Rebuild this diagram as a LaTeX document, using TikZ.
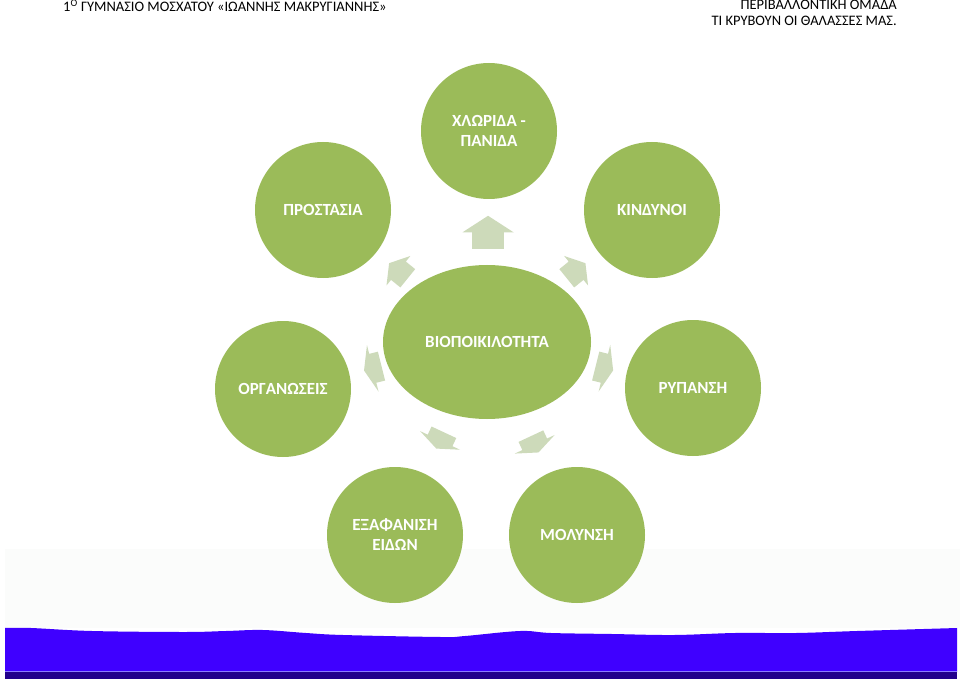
\documentclass[tikz,border=0pt]{standalone}
\usepackage{fontspec}
\setmainfont{Carlito}
\usepackage{tikz}
\usetikzlibrary{calc,shapes.geometric}
\definecolor{leafG}{HTML}{9BBB59}
\definecolor{paleG}{HTML}{CDDABA}
\definecolor{seaB}{HTML}{3F00FF}
\definecolor{deepB}{HTML}{22008C}
\definecolor{foamB}{HTML}{8C7CFF}
\definecolor{mistW}{HTML}{FBFCFB}

\begin{document}
\begin{tikzpicture}[x=1pt,y=1pt,
  bub/.style={circle,fill=leafG,minimum size=136pt,inner sep=0pt,text=white,
    align=center,font=\fontsize{17}{20}\selectfont\bfseries},
  bio/.style={ellipse,fill=leafG,minimum width=208pt,minimum height=154pt,
    inner sep=0pt,text=white,font=\fontsize{17}{20}\selectfont\bfseries},
  hdr/.style={font=\fontsize{14.5}{16}\selectfont,inner sep=0pt}]
  \useasboundingbox (0,0) rectangle (960,681);
  % sea strip
  \fill[mistW] (5,53) rectangle (960,132);
  \fill[seaB] plot[smooth,tension=0.6] coordinates {(5,53)(31,53)(92,50)(184,49)
      (226,50)(263,51)(306,48)(343,46)(441,44)(465,45)(520,50)(551,48)(612,47)
      (674,46)(735,48)(796,48)(857,50)(957,53)} -- (957,9) -- (5,9) -- cycle;
  \fill[deepB] (5,2) rectangle (957,9);
  \draw[foamB,line width=0.8pt] (5,9.5) -- (957,9.5);
  % header
  \node[hdr,anchor=base west] (school) at (63,669)
       {1\textsuperscript{O} ΓΥΜΝΑΣΙΟ ΜΟΣΧΑΤΟΥ «ΙΩΑΝΝΗΣ ΜΑΚΡΥΓΙΑΝΝΗΣ»};
  \node[hdr,anchor=base east] (team) at (897,671) {ΠΕΡΙΒΑΛΛΟΝΤΙΚΗ ΟΜΑΔΑ};
  \node[hdr,anchor=base east] (title) at (897,655) {ΤΙ ΚΡΥΒΟΥΝ ΟΙ ΘΑΛΑΣΣΕΣ ΜΑΣ.};
  % circles
  \node[bio] (bio) at (487,339) {ΒΙΟΠΟΙΚΙΛΟΤΗΤΑ};
  \node[bub] (chl) at (489,550) {ΧΛΩΡΙΔΑ -\\ΠΑΝΙΔΑ};
  \node[bub] (pro) at (323,471) {ΠΡΟΣΤΑΣΙΑ};
  \node[bub] (kin) at (652,471) {ΚΙΝΔΥΝΟΙ};
  \node[bub] (org) at (283,292) {ΟΡΓΑΝΩΣΕΙΣ};
  \node[bub] (ryp) at (693,293) {ΡΥΠΑΝΣΗ};
  \node[bub] (exa) at (395,146) {ΕΞΑΦΑΝΙΣΗ\\ΕΙΔΩΝ};
  \node[bub] (mol) at (577,146) {ΜΟΛΥΝΣΗ};
  % block arrows
  \foreach \tgt/\t/\ang/\len/\wd in {chl/0.52/90/33/51, pro/0.54/141/24/38,
      kin/0.54/39/24/38, org/0.56/194/18/48, ryp/0.57/-14/18/48,
      exa/0.51/245/18/44, mol/0.53/295/18/44}
    \fill[paleG,shift={($(bio)!\t!(\tgt)$)},rotate=\ang]
      ({-\len/2},{-0.31*\wd}) -- (0,{-0.31*\wd}) -- (0,{-\wd/2}) -- ({\len/2},0)
      -- (0,{\wd/2}) -- (0,{0.31*\wd}) -- ({-\len/2},{0.31*\wd}) -- cycle;
\end{tikzpicture}
\end{document}
